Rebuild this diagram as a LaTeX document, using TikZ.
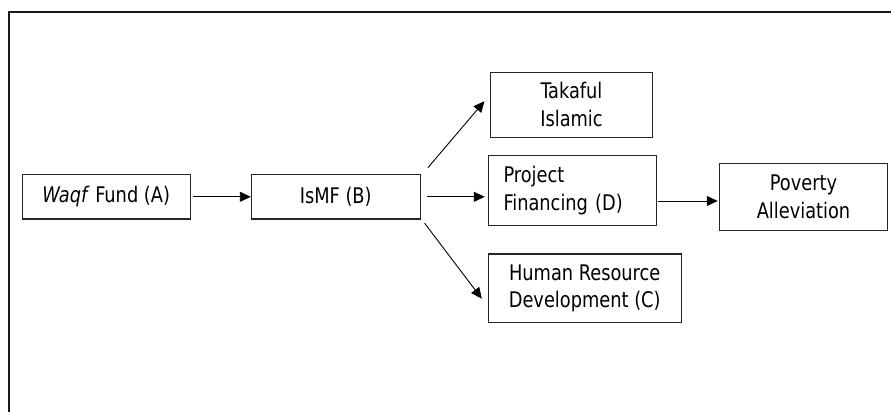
\documentclass[tikz,border=0pt]{standalone}
\usepackage{fontspec}
\setmainfont[FakeStretch=0.92]{DejaVu Sans Condensed}
\usetikzlibrary{arrows.meta}
\begin{document}
\begin{tikzpicture}[x=1pt,y=-1pt,
  box/.style={draw=black!85, line width=1.1pt, inner sep=0pt, font=\fontsize{21.5}{27.7}\selectfont},
  arr/.style={line width=0.9pt, -{Triangle[length=11pt,width=10pt]}}]
\useasboundingbox (0,0) rectangle (891,412);
\draw[line width=1.8pt, black!90] (9,412) -- (9,12) -- (891,12);
\node[box, minimum width=168.3pt, minimum height=44.3pt] (A) at (106.2,196.8) {\textit{Waqf} Fund (A)};
\node[box, minimum width=168.7pt, minimum height=44.3pt] (B) at (335.7,196.8) {IsMF (B)};
\node[box, minimum width=161.6pt, minimum height=64.7pt, align=center] (T) at (571.5,104.7) {Takaful\\Islamic};
\node[box, minimum width=168.4pt, minimum height=70.4pt, align=left, text width=138pt] (P) at (572.5,190.5) {Project\\Financing (D)};
\node[box, minimum width=168.4pt, minimum height=67pt, align=center] (V) at (803.5,196.8) {Poverty\\Alleviation};
\node[box, minimum width=192.7pt, minimum height=68.7pt, align=center] (H) at (584.7,288.3) {Human Resource\\Development (C)};
\draw[arr] ([xshift=2pt]A.east) -- (B.west);
\draw[arr] ([shift={(7.3,-6.4)}]B.north east) -- ([shift={(-5.7,29.4)}]T.north west);
\coordinate (b1) at ([xshift=6pt]B.east);
\draw[arr] (b1) -- ([xshift=-3pt]b1 -| P.west);
\draw[arr] ([shift={(4,3.7)}]B.south east) -- ([shift={(-6,45.3)}]H.north west);
\coordinate (p1) at ([shift={(1,10.5)}]P.east);
\draw[arr] (p1) -- ([xshift=-1pt]p1 -| V.west);
\end{tikzpicture}
\end{document}
